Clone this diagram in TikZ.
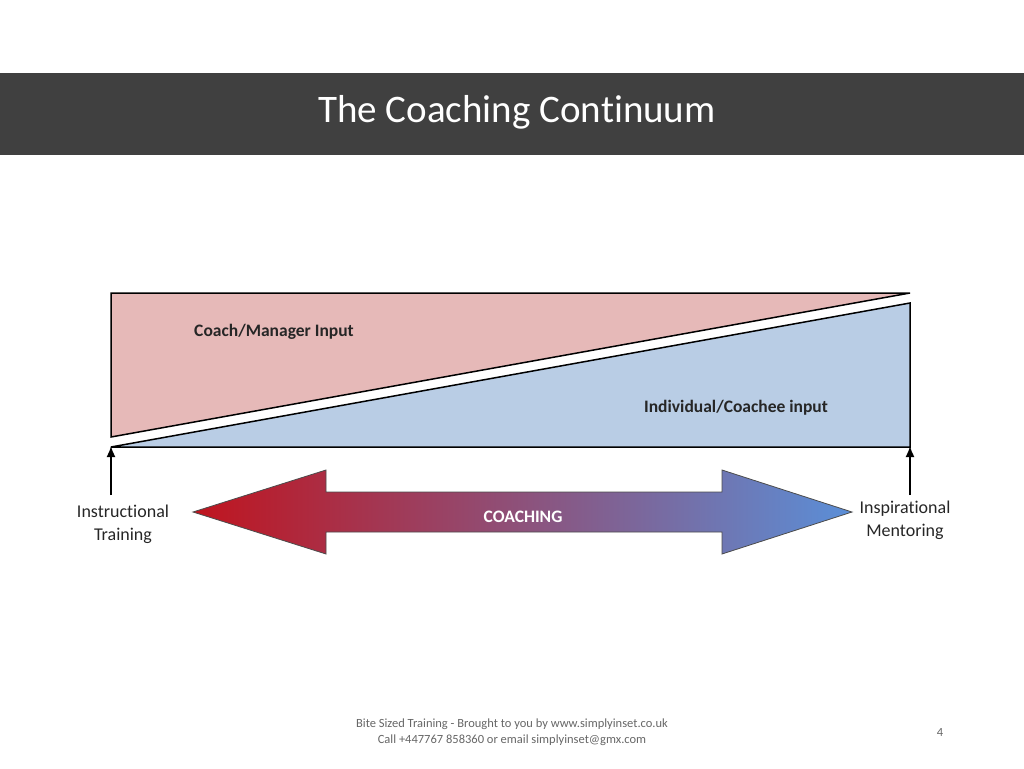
\documentclass[tikz,border=0pt]{standalone}
\usepackage{fontspec}
\setmainfont[RawFeature={-liga}]{Carlito}
\usetikzlibrary{arrows.meta}
\definecolor{bar}{HTML}{404040}
\definecolor{pinkf}{HTML}{E6B9B8}
\definecolor{bluef}{HTML}{B9CDE5}
\definecolor{redA}{HTML}{C0141E}
\definecolor{blueA}{HTML}{5A8FD8}
\definecolor{txt}{HTML}{262626}
\tikzset{lbl/.style={text=txt,font=\fontsize{18}{23}\selectfont,align=center},
 uparrow/.style={-{Latex[length=11pt,width=9pt]},line width=1.6pt}}
\begin{document}
\begin{tikzpicture}[x=1pt,y=-1pt]
\useasboundingbox (0,0) rectangle (1024,768);
\fill[bar] (0,73) rectangle (1024,155);
\node[text=white,font=\fontsize{39}{46}\selectfont] (title) at (517,112) {The Coaching Continuum};
\filldraw[fill=pinkf,draw=black,line width=1.5pt] (111,293) -- (910,293) -- (111,437) -- cycle;
\filldraw[fill=bluef,draw=black,line width=1.5pt] (111,447) -- (910,303) -- (910,447) -- cycle;
\node[font=\bfseries\fontsize{17.5}{21}\selectfont,text=txt] (cm) at (274,332) {Coach/Manager Input};
\node[font=\bfseries\fontsize{17.5}{21}\selectfont,text=txt] (ic) at (736,408) {Individual/Coachee input};
\coordinate (l0) at (111,446); \coordinate (r0) at (910,446);
\node[lbl] (it) at (123,524) {Instructional\\Training};
\node[lbl] (im) at (905,520) {Inspirational\\Mentoring};
\draw[uparrow] (111,495) -- (l0);
\draw[uparrow] (910,495) -- (r0);
\shade[left color=redA,right color=blueA]
 (193,512) -- (326,470) -- (326,492) -- (722,492) -- (722,470) -- (852,512) -- (722,554) -- (722,532) -- (326,532) -- (326,554) -- cycle;
\draw[black!70,line width=0.8pt] (193,512) -- (326,470) -- (326,492) -- (722,492) -- (722,470) -- (852,512) -- (722,554) -- (722,532) -- (326,532) -- (326,554) -- cycle;
\node[text=white,font=\bfseries\fontsize{17.5}{21}\selectfont] (co) at (523,517) {COACHING};
\node[text=black!60,font=\fontsize{12.5}{16}\selectfont,align=center] (ft) at (512,732) {Bite Sized Training - Brought to you by www.simplyinset.co.uk\\Call +447767 858360 or email simplyinset@gmx.com};
\node[text=black!60,font=\fontsize{12.5}{16}\selectfont] (pg) at (940,732) {4};
\end{tikzpicture}
\end{document}
